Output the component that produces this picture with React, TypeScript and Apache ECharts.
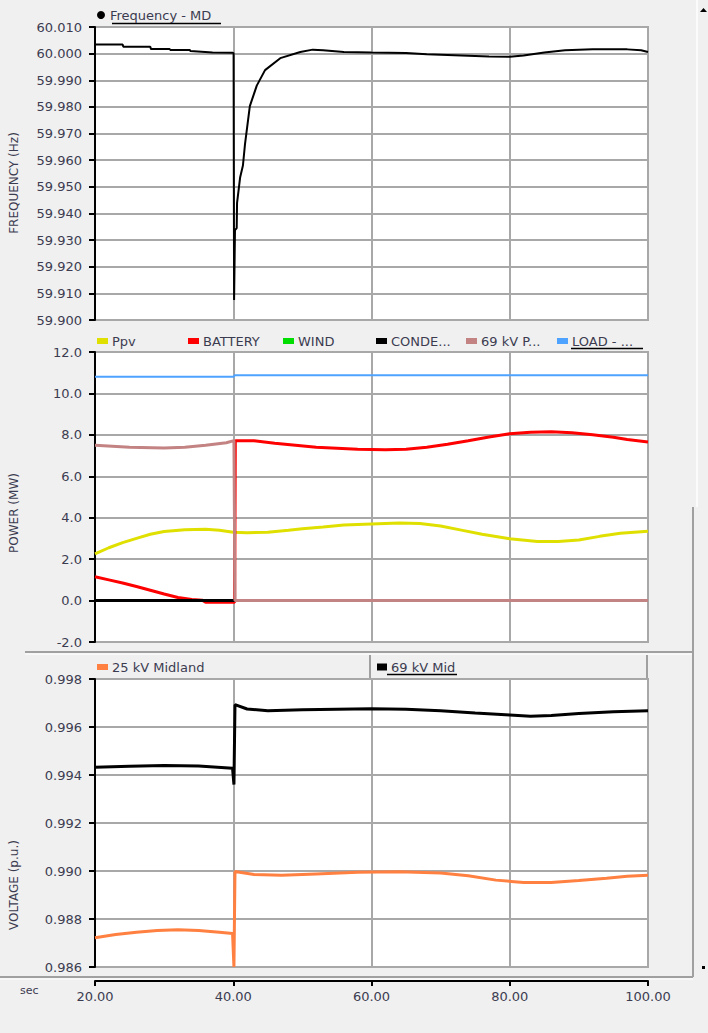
import React, { useEffect, useRef } from "react";
import * as echarts from "echarts";

// ---------- data ----------
const xMin = 20;
const xMax = 100;
const xStep = 20;

const freqT = [20, 24, 24.1, 28, 28.1, 30.8, 30.9, 33.7, 33.8, 37, 39.9, 40.05, 40.12, 40.25, 40.5, 40.55, 41.0, 41.4, 41.7, 42.4, 43.4, 44.6, 46.8, 49.7, 51.5, 53, 56, 60, 65, 68, 72, 77, 80, 82, 85, 88, 92, 97, 99, 100];
const freqV = [60.0034, 60.0034, 60.0026, 60.0026, 60.0017, 60.0017, 60.0014, 60.0014, 60.001, 60.0004, 60.0003, 60.0002, 59.9075, 59.9337, 59.9345, 59.944, 59.9536, 59.958, 59.966, 59.9803, 59.988, 59.9938, 59.9983, 60.0006, 60.0015, 60.0013, 60.0006, 60.0004, 60.0002, 59.9998, 59.9994, 59.9989, 59.9988, 59.9993, 60.0004, 60.0013, 60.0016, 60.0016, 60.0013, 60.0006];

const ppvT = [20, 22, 24, 26, 28, 30, 33, 36, 38, 40, 42, 45, 48, 50, 53, 56, 60, 64, 67, 70, 73, 76, 80, 84, 87, 90, 93, 96, 100];
const ppvV = [2.25, 2.55, 2.8, 3.0, 3.2, 3.33, 3.42, 3.44, 3.4, 3.3, 3.28, 3.3, 3.4, 3.47, 3.55, 3.65, 3.7, 3.75, 3.72, 3.6, 3.4, 3.2, 2.98, 2.85, 2.85, 2.92, 3.1, 3.25, 3.35];

const batT = [20, 22, 24, 26, 28, 30, 32, 34, 35.5, 36, 39.9, 40.2, 40.3, 43, 46, 49, 52, 55, 58, 62, 65, 68, 71, 74, 77, 80, 83, 86, 89, 92, 95, 97, 100];
const batV = [1.15, 1.0, 0.85, 0.68, 0.5, 0.32, 0.15, 0.05, 0.02, -0.08, -0.08, -0.08, 7.72, 7.72, 7.6, 7.5, 7.4, 7.35, 7.3, 7.28, 7.3, 7.4, 7.55, 7.72, 7.9, 8.05, 8.13, 8.15, 8.1, 8.0, 7.88, 7.78, 7.66];

const windT = [20, 100];
const windV = [0, 0];

const condT = [20, 100];
const condV = [0, 0];

const poiT = [20, 25, 30, 33, 36, 39, 40.1, 40.25, 100];
const poiV = [7.5, 7.4, 7.37, 7.4, 7.5, 7.62, 7.72, 0, 0];

const loadT = [20, 40.1, 40.2, 100];
const loadV = [10.8, 10.8, 10.88, 10.88];

const v25T = [20, 23, 26, 29, 32, 35, 38, 39.9, 40.1, 40.25, 43, 47, 52, 58, 64, 70, 74, 78, 82, 86, 90, 94, 97, 100];
const v25V = [0.98722, 0.98735, 0.98745, 0.98752, 0.98755, 0.98752, 0.98745, 0.9874, 0.986, 0.98998, 0.98985, 0.98982, 0.98988, 0.98995, 0.98997, 0.98992, 0.9898, 0.98962, 0.98952, 0.98952, 0.9896, 0.9897, 0.98978, 0.98982];

const v69T = [20, 25, 30, 35, 39.9, 40.1, 40.25, 42, 45, 50, 55, 60, 65, 70, 75, 80, 83, 86, 90, 95, 100];
const v69V = [0.99432, 0.99436, 0.9944, 0.99437, 0.99428, 0.9936, 0.99693, 0.99675, 0.99668, 0.99672, 0.99674, 0.99676, 0.99674, 0.99668, 0.99658, 0.9965, 0.99645, 0.99648, 0.99656, 0.99664, 0.99668];

const powerNames = ["Ppv", "BATTERY", "WIND", "CONDE...", "69 kV P...", "LOAD - ..."];
const powerColors = ["#e0e000", "#ff0000", "#00dd00", "#000000", "#c48383", "#4da3ff"];
const voltNames = ["25 kV Midland", "69 kV Mid"];
const voltColors = ["#ff8040", "#000000"];

// ---------- helpers ----------
const zip = (t: number[], v: number[]) => t.map((x, i) => [x, v[i]]);

const FONT = "DejaVu Sans";
const TXT = "#3c3c50";
const GRIDC = "#a8a8a8";

const gridBase = {
  show: true,
  borderColor: GRIDC,
  borderWidth: 2,
  backgroundColor: "#ffffff",
  left: 95,
  width: 553,
};

const xAxisFor = (i: number, withLabels: boolean) => ({
  type: "value",
  gridIndex: i,
  min: xMin,
  max: xMax,
  interval: xStep,
  offset: withLabels ? 14 : 0,
  axisLine: { show: withLabels, lineStyle: { color: "#000", width: 2 } },
  axisTick: { show: withLabels, length: 5, lineStyle: { color: "#000", width: 2 } },
  axisLabel: {
    show: withLabels,
    margin: 9,
    color: TXT,
    fontSize: 13,
    fontFamily: FONT,
    formatter: (v: number) => v.toFixed(2),
  },
  splitLine: { show: true, lineStyle: { color: GRIDC, width: 2 } },
});

const yAxisFor = (i: number, min: number, max: number, interval: number, digits: number) => ({
  type: "value",
  gridIndex: i,
  min,
  max,
  interval,
  axisLine: { show: true, onZero: false, lineStyle: { color: "#000", width: 2 } },
  axisTick: { show: true, length: 6, lineStyle: { color: "#000", width: 2 } },
  axisLabel: {
    margin: 13,
    color: TXT,
    fontSize: 13,
    fontFamily: FONT,
    formatter: (v: number) => v.toFixed(digits),
  },
  splitLine: { show: true, lineStyle: { color: GRIDC, width: 2 } },
});

const legendAt = (name: string, left: number, top: number, icon: string, w: number, h: number) => ({
  data: [{ name, icon }],
  left,
  top,
  padding: 0,
  itemWidth: w,
  itemHeight: h,
  selectedMode: false,
  textStyle: { color: TXT, fontSize: 13, fontFamily: FONT, lineHeight: 14, padding: [0, 0, 0, -1] },
});

const line = (x1: number, y1: number, x2: number, y2: number, stroke: string, w = 2) => ({
  type: "line",
  silent: true,
  shape: { x1, y1, x2, y2 },
  style: { stroke, lineWidth: w },
});

export default function App() {
  const ref = useRef<HTMLDivElement>(null);

  useEffect(() => {
    if (!ref.current) return;
    const chart = echarts.init(ref.current, undefined, { renderer: "svg" });

    const powerData = [
      zip(ppvT, ppvV),
      zip(batT, batV),
      zip(windT, windV),
      zip(condT, condV),
      zip(poiT, poiV),
      zip(loadT, loadV),
    ];
    const voltData = [zip(v25T, v25V), zip(v69T, v69V)];

    const series: any[] = [
      {
        name: "Frequency - MD",
        type: "line",
        xAxisIndex: 0,
        yAxisIndex: 0,
        data: zip(freqT, freqV),
        showSymbol: false,
        color: "#000",
        lineStyle: { color: "#000", width: 2 },
      },
    ];
    powerNames.forEach((n, i) => {
      series.push({
        name: n,
        type: "line",
        xAxisIndex: 1,
        yAxisIndex: 1,
        data: powerData[i],
        showSymbol: false,
        color: powerColors[i],
        lineStyle: { color: powerColors[i], width: i === 5 ? 2 : 3 },
      });
    });
    voltNames.forEach((n, i) => {
      series.push({
        name: n,
        type: "line",
        xAxisIndex: 2,
        yAxisIndex: 2,
        data: voltData[i],
        showSymbol: false,
        color: voltColors[i],
        lineStyle: { color: voltColors[i], width: 3 },
      });
    });

    const powerLeft = [97, 188, 283, 376, 466, 557];

    chart.setOption({
      animation: false,
      backgroundColor: "#f0f0f0",
      textStyle: { fontFamily: FONT },
      grid: [
        { ...gridBase, top: 27, height: 293 },
        { ...gridBase, top: 352, height: 290 },
        { ...gridBase, top: 679, height: 288 },
      ],
      xAxis: [xAxisFor(0, false), xAxisFor(1, false), xAxisFor(2, true)],
      yAxis: [
        yAxisFor(0, 59.9, 60.01, 0.01, 3),
        yAxisFor(1, -2, 12, 2, 1),
        yAxisFor(2, 0.986, 0.998, 0.002, 3),
      ],
      legend: [
        legendAt("Frequency - MD", 97, 8, "circle", 10, 8),
        ...powerNames.map((n, i) => legendAt(n, powerLeft[i], 334, "rect", 11, 6)),
        legendAt(voltNames[0], 97, 660, "rect", 11, 6),
        legendAt(voltNames[1], 377, 660, "rect", 10, 7),
      ],
      graphic: [
        // panel separators and frame lines
        line(25, 652, 693, 652, "#a0a0a0", 2),
        line(25, 654, 693, 654, "#ffffff", 1),
        line(370, 655, 370, 679, "#a0a0a0", 2),
        line(647, 655, 647, 679, "#a0a0a0", 2),
        line(0, 977, 693, 977, "#a0a0a0", 2),
        line(0, 979, 693, 979, "#ffffff", 1),
        line(693, 507, 693, 977, "#a0a0a0", 2),
        line(697, 0, 697, 507, "#fbfbfb", 2),
        {
          type: "polygon",
          silent: true,
          shape: { points: [[700, 12], [707, 12], [703.5, 8]] },
          style: { fill: "#000" },
        },
        { type: "rect", silent: true, shape: { x: 702, y: 966, width: 3, height: 3 }, style: { fill: "#000" } },
        // legend underlines
        line(112, 23.5, 221, 23.5, "#000", 1.5),
        line(571, 348.5, 643, 348.5, "#000", 1.5),
        line(387, 674.5, 457, 674.5, "#000", 1.5),
        // axis names
        {
          type: "text",
          silent: true,
          x: 14,
          y: 183,
          rotation: Math.PI / 2,
          style: { text: "FREQUENCY (Hz)", fontSize: 12, fontFamily: FONT, fill: TXT, align: "center", verticalAlign: "middle" },
        },
        {
          type: "text",
          silent: true,
          x: 14,
          y: 513,
          rotation: Math.PI / 2,
          style: { text: "POWER (MW)", fontSize: 12, fontFamily: FONT, fill: TXT, align: "center", verticalAlign: "middle" },
        },
        {
          type: "text",
          silent: true,
          x: 14,
          y: 885,
          rotation: Math.PI / 2,
          style: { text: "VOLTAGE (p.u.)", fontSize: 12, fontFamily: FONT, fill: TXT, align: "center", verticalAlign: "middle" },
        },
        {
          type: "text",
          silent: true,
          x: 20,
          y: 990,
          style: { text: "sec", fontSize: 11, fontFamily: FONT, fill: TXT, align: "left", verticalAlign: "middle" },
        },
      ],
      series,
    });

    return () => {
      chart.dispose();
    };
  }, []);

  return (
    <div
      ref={ref}
      style={{ position: "absolute", left: 0, top: 0, width: 708, height: 1033 }}
    />
  );
}
